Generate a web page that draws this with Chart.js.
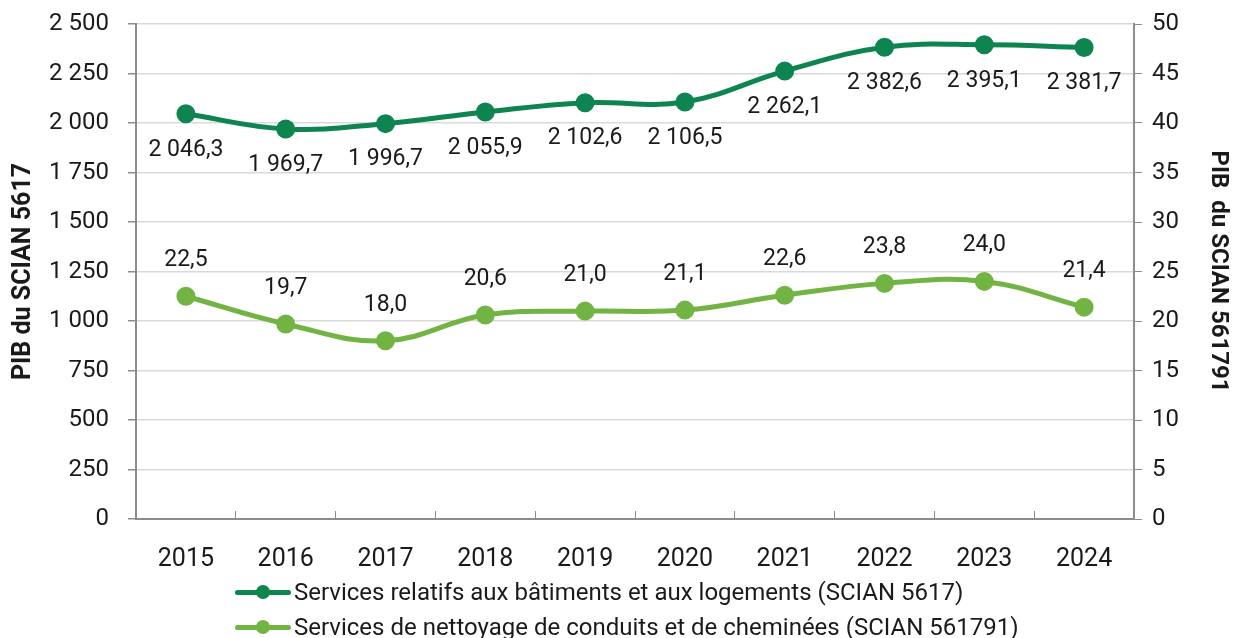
<!DOCTYPE html>
<html lang="fr">
<head>
<meta charset="utf-8">
<title>PIB SCIAN 5617 et 561791</title>
<script src="https://cdn.jsdelivr.net/npm/chart.js@4/dist/chart.umd.min.js"></script>
<style>
  html, body { margin: 0; padding: 0; background: #fff; }
  .wrap { position: relative; width: 1241px; height: 638px; }
  #pibChart { position: absolute; left: 0; top: 0; }
  .legend { position: absolute; left: 235px; top: 574px; font-family: Roboto, sans-serif; font-size: 24px; color: #1a1a1a; }
  .legend .row { display: flex; align-items: center; height: 35px; }
  .legend .mark { position: relative; width: 56px; height: 14px; margin-right: 3px; }
  .legend .mark .bar { position: absolute; left: 0; right: 0; top: 5px; height: 5px; border-radius: 3px; }
  .legend .mark .dot { position: absolute; left: 21px; top: 0; width: 14px; height: 14px; border-radius: 50%; }
</style>
</head>
<body>
<div class="wrap">
  <canvas id="pibChart" width="1241" height="638"></canvas>
  <div class="legend" id="legend"></div>
</div>
<script>
const years = ['2015', '2016', '2017', '2018', '2019', '2020', '2021', '2022', '2023', '2024'];
const pib5617 = [2046.3, 1969.7, 1996.7, 2055.9, 2102.6, 2106.5, 2262.1, 2382.6, 2395.1, 2381.7];
const pib561791 = [22.5, 19.7, 18.0, 20.6, 21.0, 21.1, 22.6, 23.8, 24.0, 21.4];
const seriesNames = [
  'Services relatifs aux bâtiments et aux logements (SCIAN 5617)',
  'Services de nettoyage de conduits et de cheminées (SCIAN 561791)'
];
const colors = ['#0e8450', '#72b443'];

// format "2 046,3" / "2 500"
const fmtFr = (n, dec) => {
  const parts = Number(n).toFixed(dec).split('.');
  parts[0] = parts[0].replace(/\B(?=(\d{3})+(?!\d))/g, ' ');
  return parts.join(',');
};

const axisGray = '#8c8c8c';
const gridGray = '#d9d9d9';
const txt = '#1a1a1a';

const pointLabels = {
  id: 'pointLabels',
  afterDatasetsDraw(chart) {
    const ctx = chart.ctx;
    ctx.save();
    ctx.font = '23px Roboto, sans-serif';
    ctx.fillStyle = txt;
    ctx.textAlign = 'center';
    ctx.textBaseline = 'middle';
    chart.data.datasets.forEach((ds, i) => {
      const meta = chart.getDatasetMeta(i);
      const off = i === 0 ? 36 : -36;
      meta.data.forEach((pt, j) => {
        ctx.fillText(fmtFr(ds.data[j], 1), pt.x, pt.y + off);
      });
    });
    ctx.restore();
  }
};

// fixed axis sizes so the plot area sits where it does in the original
const fixY = w => s => { s.width = w; s.paddingTop = 0; s.paddingBottom = 0; };

new Chart(document.getElementById('pibChart'), {
  type: 'line',
  data: {
    labels: years,
    datasets: [
      { label: seriesNames[0], data: pib5617, yAxisID: 'y', borderColor: colors[0], backgroundColor: colors[0], borderWidth: 5, pointRadius: 7, pointHoverRadius: 7, tension: 0.4 },
      { label: seriesNames[1], data: pib561791, yAxisID: 'y1', borderColor: colors[1], backgroundColor: colors[1], borderWidth: 5, pointRadius: 7, pointHoverRadius: 7, tension: 0.4 },
    ]
  },
  options: {
    responsive: false,
    animation: false,
    layout: { padding: { top: 24, bottom: 0, left: 0, right: 0 } },
    plugins: { legend: { display: false }, tooltip: { enabled: false } },
    scales: {
      x: {
        offset: true,
        afterFit: s => { s.height = 119; s.paddingLeft = 0; s.paddingRight = 0; },
        // negative tick length: the small category marks point up into the plot
        grid: { display: true, drawOnChartArea: false, tickLength: -8, tickColor: axisGray, offset: true },
        border: { color: axisGray, width: 2 },
        ticks: { color: txt, font: { family: 'Roboto', size: 25 }, padding: 34 }
      },
      y: {
        position: 'left',
        min: 0, max: 2500,
        afterFit: fixY(136),
        grid: { color: gridGray, lineWidth: 1.5, tickLength: 8, tickColor: axisGray },
        border: { color: axisGray, width: 2 },
        ticks: { stepSize: 250, color: txt, font: { family: 'Roboto', size: 24 }, padding: 19, callback: v => fmtFr(v, 0) },
        title: { display: true, text: 'PIB du SCIAN 5617', color: txt, font: { family: 'Roboto', size: 25, weight: 'bold' }, padding: { top: 9, bottom: 0 } }
      },
      y1: {
        position: 'right',
        min: 0, max: 50,
        afterFit: fixY(107),
        grid: { drawOnChartArea: false, tickLength: 8, tickColor: axisGray },
        border: { color: axisGray, width: 2 },
        ticks: { stepSize: 5, color: txt, font: { family: 'Roboto', size: 24 }, padding: 10, callback: v => fmtFr(v, 0) },
        title: { display: true, text: 'PIB  du SCIAN 561791', color: txt, font: { family: 'Roboto', size: 24, weight: 'bold' }, padding: { top: 9, bottom: 0 } }
      }
    }
  },
  plugins: [pointLabels]
});

// legend, left aligned rows like the original
const legendEl = document.getElementById('legend');
seriesNames.forEach((name, i) => {
  const row = document.createElement('div');
  row.className = 'row';
  row.innerHTML = `<span class="mark"><span class="bar" style="background:${colors[i]}"></span><span class="dot" style="background:${colors[i]}"></span></span><span>${name}</span>`;
  legendEl.appendChild(row);
});
</script>
</body>
</html>
